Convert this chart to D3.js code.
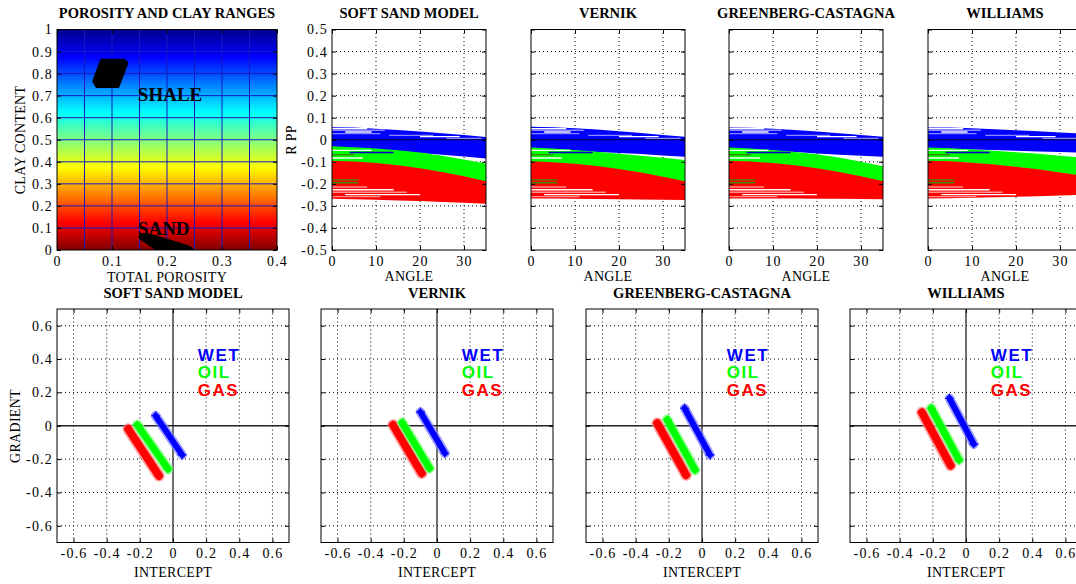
<!DOCTYPE html>
<html><head><meta charset="utf-8">
<script src="https://cdn.jsdelivr.net/npm/d3@7"></script>
<style>
body{margin:0;background:#fff;}
svg{display:block;}
text{font-family:"Liberation Serif","Times New Roman",serif;fill:#000;}
.tk text{font-size:14px;letter-spacing:1.2px;font-family:"Liberation Serif","Times New Roman",serif;}
.title{font-size:14.5px;font-weight:bold;}
.axlab{font-size:14px;letter-spacing:0.3px;}
.legend{font-family:"Liberation Sans",Arial,sans-serif;font-weight:bold;font-size:17px;letter-spacing:1.5px;}
.rock{font-size:19px;font-weight:bold;}
</style></head><body>
<svg id="chart" width="1076" height="584"></svg>
<script>
// ---------------- DATA ----------------
// Panel 1: porosity / clay ranges
const porosityTicks = [0, 0.1, 0.2, 0.3, 0.4];
const clayTicks = [0, 0.1, 0.2, 0.3, 0.4, 0.5, 0.6, 0.7, 0.8, 0.9, 1];
const porosityGrid = [0.05, 0.1, 0.15, 0.2, 0.25, 0.3, 0.35];
const clayGrid = [0.1, 0.2, 0.3, 0.4, 0.5, 0.6, 0.7, 0.8, 0.9];
const shaleBlob = [[0.081,0.860],[0.122,0.860],[0.127,0.848],[0.111,0.742],[0.072,0.742],[0.067,0.765]];
const sandBlob = [[0.152,0.070],[0.166,0.070],[0.200,0.047],[0.234,0.019],[0.246,0.004],[0.238,-0.01],[0.190,-0.01],[0.166,0.028],[0.151,0.054]];
const rockNames = ["SHALE", "SAND"];
const rockLabelPos = [[0.147, 0.674], [0.147, 0.068]];

// AVO curves (reflection coefficient vs angle)
const modelNames = ["SOFT SAND MODEL", "VERNIK", "GREENBERG-CASTAGNA", "WILLIAMS"];
const angleTicks = [0, 10, 20, 30];
const rppTicks = [-0.5, -0.4, -0.3, -0.2, -0.1, 0, 0.1, 0.2, 0.3, 0.4, 0.5];
const angles = [0, 5, 10, 15, 20, 25, 30, 35];
const wetTop = [
  [0.057, 0.055, 0.050, 0.044, 0.037, 0.029, 0.021, 0.013],
  [0.059, 0.057, 0.052, 0.046, 0.039, 0.031, 0.022, 0.014],
  [0.056, 0.054, 0.050, 0.044, 0.037, 0.030, 0.022, 0.014],
  [0.056, 0.055, 0.052, 0.048, 0.043, 0.038, 0.033, 0.028]
];
const wetBot = [
  [-0.035, -0.040, -0.046, -0.053, -0.060, -0.068, -0.076, -0.085],
  [-0.040, -0.045, -0.050, -0.055, -0.060, -0.065, -0.071, -0.077],
  [-0.040, -0.045, -0.050, -0.056, -0.062, -0.068, -0.073, -0.077],
  [-0.038, -0.041, -0.044, -0.047, -0.050, -0.053, -0.056, -0.059]
];
const oilTop = [
  [-0.030, -0.034, -0.040, -0.048, -0.058, -0.072, -0.090, -0.108],
  [-0.035, -0.040, -0.046, -0.054, -0.063, -0.072, -0.082, -0.092],
  [-0.035, -0.040, -0.047, -0.056, -0.066, -0.080, -0.100, -0.120],
  [-0.035, -0.039, -0.044, -0.050, -0.057, -0.064, -0.072, -0.080]
];
const oilBot = [
  [-0.097, -0.101, -0.108, -0.118, -0.131, -0.148, -0.167, -0.190],
  [-0.100, -0.104, -0.111, -0.121, -0.135, -0.151, -0.170, -0.190],
  [-0.097, -0.101, -0.108, -0.118, -0.131, -0.148, -0.168, -0.190],
  [-0.097, -0.100, -0.106, -0.114, -0.124, -0.136, -0.150, -0.165]
];
const gasTop = [
  [-0.095, -0.099, -0.106, -0.116, -0.129, -0.146, -0.165, -0.188],
  [-0.098, -0.102, -0.109, -0.119, -0.133, -0.149, -0.168, -0.188],
  [-0.095, -0.099, -0.106, -0.116, -0.129, -0.146, -0.166, -0.188],
  [-0.095, -0.098, -0.104, -0.112, -0.122, -0.134, -0.148, -0.163]
];
const gasBot = [
  [-0.268, -0.270, -0.272, -0.275, -0.278, -0.282, -0.286, -0.290],
  [-0.266, -0.267, -0.268, -0.269, -0.270, -0.271, -0.272, -0.273],
  [-0.266, -0.266, -0.267, -0.267, -0.268, -0.268, -0.269, -0.270],
  [-0.266, -0.265, -0.263, -0.261, -0.259, -0.256, -0.253, -0.250]
];
// streaks inside the bands: [R, angle from, angle to, kind]
const streaks = [
  [0.050, 0, 8, "w"], [0.043, 0, 12, "lb"], [0.035, 3, 9, "w"], [0.028, 0, 11, "lb"],
  [0.020, 13, 23, "lb"], [0.014, 20, 29, "w"], [0.006, 26, 34, "lb"],
  [-0.048, 0, 9, "w"], [-0.058, 4, 14, "db"], [-0.068, 0, 5, "dg"], [-0.083, 0, 7, "w"],
  [-0.182, 0, 6, "dg"], [-0.195, 0, 6, "dg"], [-0.214, 0, 8, "pk"], [-0.227, 0, 14, "w"],
  [-0.238, 0, 17, "pk"], [-0.249, 3, 20, "w"], [-0.258, 0, 11, "pk"]
];

// Intercept / gradient crossplots
const igTicks = [-0.6, -0.4, -0.2, 0, 0.2, 0.4, 0.6];
const wetLine = [
  [[-0.105, 0.060], [0.055, -0.175]],
  [[-0.100, 0.082], [0.048, -0.165]],
  [[-0.105, 0.105], [0.048, -0.175]],
  [[-0.100, 0.165], [0.047, -0.110]]
];
const oilLine = [
  [[-0.215, 0.005], [-0.030, -0.260]],
  [[-0.210, 0.018], [-0.045, -0.255]],
  [[-0.210, 0.036], [-0.042, -0.265]],
  [[-0.210, 0.105], [-0.042, -0.205]]
];
const gasLine = [
  [[-0.270, -0.020], [-0.085, -0.300]],
  [[-0.265, 0.005], [-0.092, -0.285]],
  [[-0.270, 0.015], [-0.096, -0.295]],
  [[-0.266, 0.080], [-0.093, -0.238]]
];
const legendLabels = ["WET", "OIL", "GAS"];
const legendPos = [[0.15, 0.39], [0.15, 0.285], [0.15, 0.18]];

// ---------------- STYLE ----------------
const fluidColor = {WET: "#0000ff", OIL: "#00ff00", GAS: "#ff0000"};
const fluidHalo = {WET: "#7a7aff", OIL: "#7aff7a", GAS: "#ff7a7a"};
const streakColor = {w: "#ffffff", lb: "#8888ff", db: "#0000c8", dg: "#3c8c00", pk: "#ff9090"};
const jetStops = [[0, "#800000"], [0.125, "#ff0000"], [0.375, "#ffff00"], [0.625, "#00ffff"], [0.875, "#0000ff"], [1, "#00008f"]];

const svg = d3.select("#chart");
const defs = svg.append("defs");
const fmt = d => String(d);

function clip(id, x, y, w, h) {
  defs.append("clipPath").attr("id", id).append("rect").attr("x", x).attr("y", y).attr("width", w).attr("height", h);
  return "url(#" + id + ")";
}
function styleAxis(g) {
  g.select(".domain").remove();
  g.selectAll(".tick line").attr("stroke", "#000").attr("stroke-width", 1);
  g.attr("class", "tk").attr("font-size", null).attr("font-family", null);
  return g;
}
function boxAxes(g, xs, ys, xt, yt, showX, showY, padX, padY) {
  const [x0, x1] = xs.range(), [yb, yt0] = ys.range();
  styleAxis(g.append("g").attr("transform", `translate(0,${yb})`)
    .call(d3.axisBottom(xs).tickValues(xt).tickSize(-4).tickPadding(padX).tickFormat(showX ? fmt : "")));
  styleAxis(g.append("g").attr("transform", `translate(0,${yt0})`)
    .call(d3.axisTop(xs).tickValues(xt).tickSize(-4).tickFormat("")));
  styleAxis(g.append("g").attr("transform", `translate(${x0},0)`)
    .call(d3.axisLeft(ys).tickValues(yt).tickSize(-4).tickPadding(padY).tickFormat(showY ? fmt : "")));
  styleAxis(g.append("g").attr("transform", `translate(${x1},0)`)
    .call(d3.axisRight(ys).tickValues(yt).tickSize(-4).tickFormat("")));
  g.append("rect").attr("x", x0).attr("y", yt0).attr("width", x1 - x0).attr("height", yb - yt0)
    .attr("fill", "none").attr("stroke", "#000").attr("stroke-width", 1);
}
function dottedGrid(g, xs, ys, xt, yt) {
  const [x0, x1] = xs.range(), [yb, yt0] = ys.range();
  g.selectAll(null).data(xt).join("line")
    .attr("x1", d => xs(d)).attr("x2", d => xs(d)).attr("y1", yb).attr("y2", yt0)
    .attr("stroke", "#000").attr("stroke-dasharray", "1,3");
  g.selectAll(null).data(yt).join("line")
    .attr("y1", d => ys(d)).attr("y2", d => ys(d)).attr("x1", x0).attr("x2", x1)
    .attr("stroke", "#000").attr("stroke-dasharray", "1,3");
}

// ---------------- PANEL 1 ----------------
{
  const xs = d3.scaleLinear().domain([0, 0.4]).range([57, 277]);
  const ys = d3.scaleLinear().domain([0, 1]).range([250, 29.5]);
  const grad = defs.append("linearGradient").attr("id", "jet").attr("x1", 0).attr("y1", 1).attr("x2", 0).attr("y2", 0);
  jetStops.forEach(s => grad.append("stop").attr("offset", s[0]).attr("stop-color", s[1]));
  const g = svg.append("g");
  const cp = clip("c0", 57, 29.5, 220, 220.5);
  g.append("rect").attr("x", xs(0)).attr("y", ys(1)).attr("width", xs(0.4) - xs(0)).attr("height", ys(0) - ys(1)).attr("fill", "url(#jet)");
  g.selectAll(null).data(porosityGrid).join("line")
    .attr("x1", d => xs(d)).attr("x2", d => xs(d)).attr("y1", ys(0)).attr("y2", ys(1))
    .attr("stroke", "#1818c0").attr("stroke-width", 1);
  g.selectAll(null).data(clayGrid).join("line")
    .attr("y1", d => ys(d)).attr("y2", d => ys(d)).attr("x1", xs(0)).attr("x2", xs(0.4))
    .attr("stroke", "#1818c0").attr("stroke-width", 1);
  const blob = d3.line().x(d => xs(d[0])).y(d => ys(d[1]));
  const bg = g.append("g").attr("clip-path", cp);
  bg.append("path").attr("d", blob.curve(d3.curveLinearClosed)(shaleBlob))
    .attr("fill", "#000").attr("stroke", "#000").attr("stroke-width", 3).attr("stroke-linejoin", "round");
  bg.append("path").attr("d", blob.curve(d3.curveCardinalClosed.tension(0.3))(sandBlob))
    .attr("fill", "#000").attr("stroke", "#000").attr("stroke-width", 2).attr("stroke-linejoin", "round");
  g.selectAll(null).data(rockNames).join("text").attr("class", "rock")
    .attr("x", (d, i) => xs(rockLabelPos[i][0])).attr("y", (d, i) => ys(rockLabelPos[i][1])).text(d => d);
  boxAxes(g, xs, ys, porosityTicks, clayTicks, true, true, 6, 4);
  g.append("text").attr("class", "title").attr("x", 167).attr("y", 18).attr("text-anchor", "middle").text("POROSITY AND CLAY RANGES");
  g.append("text").attr("class", "axlab").attr("x", 167).attr("y", 282).attr("text-anchor", "middle").text("TOTAL POROSITY");
  g.append("text").attr("class", "axlab").attr("transform", "translate(25,140) rotate(-90)").attr("text-anchor", "middle").text("CLAY CONTENT");
}

// ---------------- AVO PANELS ----------------
const topLeft = [332, 531, 729, 928];
const ysT = d3.scaleLinear().domain([-0.5, 0.5]).range([250, 29.5]);
modelNames.forEach((name, i) => {
  const xs = d3.scaleLinear().domain([0, 35]).range([topLeft[i], topLeft[i] + 154]);
  const g = svg.append("g");
  dottedGrid(g, xs, ysT, angleTicks.filter(d => d > 0), rppTicks.filter(d => d > -0.5 && d < 0.5));
  const pg = g.append("g").attr("clip-path", clip("ct" + i, topLeft[i], 29.5, 154, 220.5));
  const area = (top, bot) => d3.area().x((d, k) => xs(angles[k])).y0((d, k) => ysT(bot[k])).y1((d, k) => ysT(top[k]))(angles);
  pg.append("path").attr("d", area(wetTop[i], wetBot[i])).attr("fill", fluidColor.WET);
  pg.append("path").attr("d", area(oilTop[i], oilBot[i])).attr("fill", fluidColor.OIL);
  pg.append("path").attr("d", area(gasTop[i], gasBot[i])).attr("fill", fluidColor.GAS);
  pg.selectAll(null).data(streaks).join("line")
    .attr("x1", d => xs(d[1])).attr("x2", d => xs(d[2])).attr("y1", d => ysT(d[0])).attr("y2", d => ysT(d[0]))
    .attr("stroke", d => streakColor[d[3]]).attr("stroke-width", 1.4);
  pg.append("line").attr("x1", xs(0)).attr("x2", xs(35)).attr("y1", ysT(0)).attr("y2", ysT(0))
    .attr("stroke", "#000030").attr("stroke-width", 1.2);
  boxAxes(g, xs, ysT, angleTicks, rppTicks, true, i === 0, 6, 4);
  const cx = topLeft[i] + 77;
  g.append("text").attr("class", "title").attr("x", cx).attr("y", 18).attr("text-anchor", "middle").text(name);
  g.append("text").attr("class", "axlab").attr("x", cx).attr("y", 281).attr("text-anchor", "middle").text("ANGLE");
  if (i === 0) g.append("text").attr("class", "axlab").attr("transform", "translate(296,140) rotate(-90)").attr("text-anchor", "middle").text("R PP");
});

// ---------------- INTERCEPT / GRADIENT PANELS ----------------
const botLeft = [57, 321, 586, 850];
const ysB = d3.scaleLinear().domain([-0.7, 0.7]).range([542.5, 309]);
modelNames.forEach((name, i) => {
  const xs = d3.scaleLinear().domain([-0.7, 0.7]).range([botLeft[i], botLeft[i] + 232]);
  const g = svg.append("g");
  dottedGrid(g, xs, ysB, igTicks.filter(d => d !== 0), igTicks.filter(d => d !== 0));
  g.append("line").attr("x1", xs(0)).attr("x2", xs(0)).attr("y1", ysB(-0.7)).attr("y2", ysB(0.7)).attr("stroke", "#222").attr("stroke-width", 1.3);
  g.append("line").attr("y1", ysB(0)).attr("y2", ysB(0)).attr("x1", xs(-0.7)).attr("x2", xs(0.7)).attr("stroke", "#222").attr("stroke-width", 1.3);
  const line = d3.line().x(d => xs(d[0])).y(d => ysB(d[1]));
  const clusters = [["GAS", gasLine[i], 8], ["OIL", oilLine[i], 7], ["WET", wetLine[i], 6]];
  clusters.forEach(([f, pts, w]) => {
    g.append("path").attr("d", line(pts)).attr("stroke", fluidHalo[f]).attr("stroke-width", w + 3.5).attr("stroke-opacity", 0.7).attr("stroke-linecap", "round").attr("fill", "none");
    g.append("path").attr("d", line(pts)).attr("stroke", fluidColor[f]).attr("stroke-width", w).attr("stroke-linecap", "round").attr("fill", "none");
    g.selectAll(null).data(pts).join("path")
      .attr("d", d => `M${xs(d[0]) - 4.5},${ysB(d[1])}h9M${xs(d[0])},${ysB(d[1]) - 4.5}v9`)
      .attr("stroke", fluidColor[f]).attr("stroke-width", 1.2);
  });
  g.selectAll(null).data(legendLabels).join("text").attr("class", "legend")
    .attr("x", (d, k) => xs(legendPos[k][0])).attr("y", (d, k) => ysB(legendPos[k][1]))
    .style("fill", d => fluidColor[d]).text(d => d);
  boxAxes(g, xs, ysB, igTicks, igTicks, true, i === 0, 6, 4);
  const cx = botLeft[i] + 116;
  g.append("text").attr("class", "title").attr("x", cx).attr("y", 298).attr("text-anchor", "middle").text(name);
  g.append("text").attr("class", "axlab").attr("x", cx).attr("y", 577).attr("text-anchor", "middle").text("INTERCEPT");
  if (i === 0) g.append("text").attr("class", "axlab").attr("transform", "translate(20,426) rotate(-90)").attr("text-anchor", "middle").text("GRADIENT");
});
</script>
</body></html>
